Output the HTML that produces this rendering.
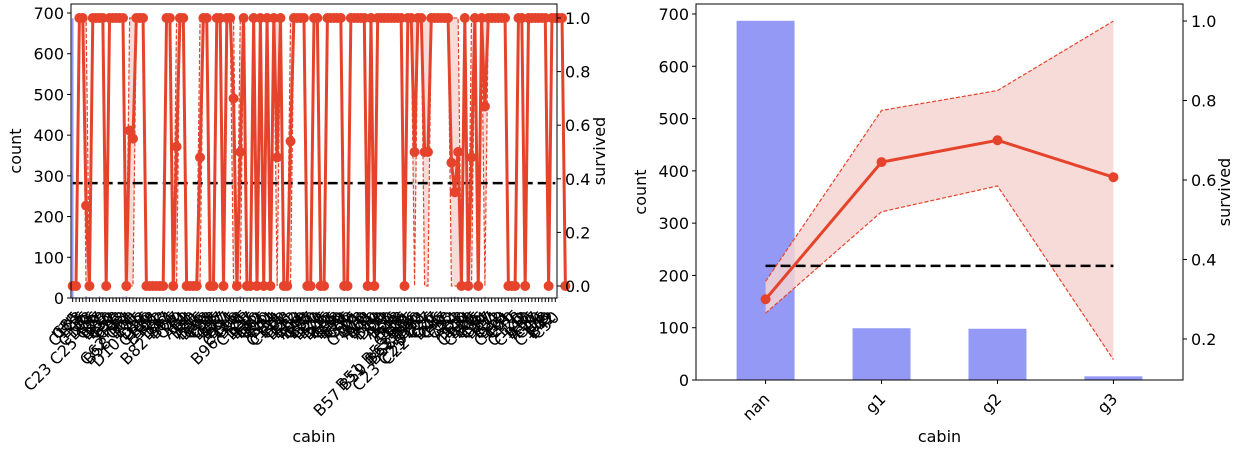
<!DOCTYPE html>
<html><head><meta charset="utf-8"><style>
body{margin:0;background:#fff;font-family:"Liberation Sans","DejaVu Sans",sans-serif;}
svg text{font-family:"DejaVu Sans","Liberation Sans",sans-serif;}
</style></head><body>
<svg id="s" width="1238" height="448" viewBox="0 0 1238 448" xmlns="http://www.w3.org/2000/svg"></svg>
<script>
// ---------- Left chart data ----------
const leftCabins = ("nan C85 C123 E46 G6 C103 D56 A6 C23_C25_C27 B78 D33 B30 C52 B28 C83 F33 F4 C62_C64 B58_B60 E31 A5 D10_D12 D26 C110 B58 E101 F2 E33 D47 B82_B84 B86 D7 C49 F4 A32 B4 B80 A31 D36 D15 C93 C83 C78 D35 C87 B77 E67 B94 C125 C99 B96_B98 T C128 D37 B35 E50 C82 B96 E10 E44 A34 C104 C111 C92 E38 D21 E12 E63 A14 B49 C93 B37 C30 D20 B79 E25 D46 B73 C95 B38 B39 B22 C86 C70 A16 C101 C68 A10 E68 B41 A20 D19 D50 D9 A23 B50 A26 D48 E58 C126 B71 B51_B53_B55 B57_B59_B63_B66 B58_B60 B53 B101 C23_C25_C27 C22_C26 C27 D45 C46 C47 F38 C32 A24 B3 D28 E40 C124 B20 C106 C65 E36 C54 B57 C7 E34 C32 B18 C124 C91 E40 T C128 D C148 B10 A36 E17 C49 D6 C118 E49 B42 C50").split(" ").map(s=>s.replace(/_/g," "));
const leftCounts = [687,2,1,1,4,2,1,1,4,2,1,2,2,2,2,3,4,2,2,1,1,1,1,1,2,1,2,1,1,1,1,1,1,1,1,1,2,1,1,1,1,2,1,1,1,1,1,1,1,1,4,1,1,1,1,1,1,2,1,1,1,2,1,1,1,1,1,1,1,1,1,1,1,1,1,1,1,1,1,1,1,1,1,1,1,1,1,1,1,1,1,1,1,1,1,1,1,1,1,1,1,1,1,2,2,1,2,1,1,1,1,1,1,3,3,2,1,1,1,2,1,1,1,3,1,1,1,1,1,1,1,1,1,1,1,1,1,1,1,1,1,1,1,1,1,1,1,1];
const leftSurv = [0,0,1,1,0.3,0,1,1,1,1,0,1,1,1,1,1,0,0.58,0.55,1,1,1,0,0,0,0,0,0,1,1,0,0.52,1,1,0,0,0,0,0.48,1,1,0,0,1,1,0,1,1,0.7,0,0.5,1,0,0,1,0,1,0,1,0,1,0.48,1,0,0,0.54,1,1,1,1,0,0,1,1,0,0,1,1,1,1,1,0,0,1,1,1,1,1,0,1,0,1,1,1,1,1,1,1,1,0,1,1,0.5,1,1,0.5,0.5,1,1,1,1,1,1,0.46,0.35,0.5,0,1,0,0.48,1,0,1,0.67,1,1,1,1,1,1,0,0,0,1,1,0,1,1,1,1,1,1,0,1,1,1,1,0];
const leftLo = leftSurv.map(v => (v>0 && v<1) ? 0 : v);
const leftHi = leftSurv.map(v => (v>0 && v<1) ? 1 : v);
const leftMean = 0.384;
const countTicks = [0,100,200,300,400,500,600,700];
const leftSurvTicks = [0.0,0.2,0.4,0.6,0.8,1.0];

// ---------- Right chart data ----------
const rightCats = ["nan","g1","g2","g3"];
const rightCounts = [687,99,98,7];
const rightSurv = [0.30,0.645,0.70,0.607];
const rightLo = [0.265,0.52,0.585,0.148];
const rightHi = [0.345,0.775,0.825,1.0];
const rightMean = 0.384;
const rightSurvTicks = [0.2,0.4,0.6,0.8,1.0];

const NS="http://www.w3.org/2000/svg", svg=document.getElementById('s');
function mk(tag, attrs, parent){const e=document.createElementNS(NS,tag);for(const k in attrs)e.setAttribute(k,attrs[k]);(parent||svg).appendChild(e);return e;}
const RED="#e5432b", BLUE="#9399f5", FILL="#f5d5d2";

function drawChart(o){
  const g=mk('g',{});
  
  
  const n=o.cats.length;
  const step=(o.x1-o.x0)/(n-1+2*o.pad);
  const xs=i=>o.x0+(i+o.pad)*step;
  const ycount=v=>o.c0y+(o.c700y-o.c0y)*v/700;
  const ys=v=>o.s0y+(o.s1y-o.s0y)*v;
  o.counts.forEach((c,i)=>{const b=mk('rect',{x:xs(i)-step*0.25,y:ycount(c),width:step*0.5,height:o.c0y-ycount(c),fill:BLUE},g);
    
    });
  let pts=o.hi.map((v,i)=>xs(i)+','+ys(v)).concat(o.lo.map((v,i)=>xs(i)+','+ys(v)).reverse());
  const band=mk('polygon',{points:pts.join(' '),fill:FILL,'fill-opacity':0.85},g);
  
  
  [o.lo,o.hi].forEach(arr=>{const l=mk('polyline',{points:arr.map((v,i)=>xs(i)+','+ys(v)).join(' '),fill:'none',stroke:RED,'stroke-width':1.2,'stroke-dasharray':'4,2'},g);
    
    });
  const m=mk('line',{x1:xs(0),x2:xs(n-1),y1:ys(o.mean),y2:ys(o.mean),stroke:'#000','stroke-width':2.5,'stroke-dasharray':'10,5'},g);
  
  
  const sl=mk('polyline',{points:o.surv.map((v,i)=>xs(i)+','+ys(v)).join(' '),fill:'none',stroke:RED,'stroke-width':o.lw},g);
  
  
  o.surv.forEach((v,i)=>{const c=mk('circle',{cx:xs(i),cy:ys(v),r:o.r,fill:RED},g);
    
    });
  const f=mk('rect',{x:o.x0,y:o.yt,width:o.x1-o.x0,height:o.yb-o.yt,fill:'none',stroke:'#000','stroke-width':1},g);
  
  
  countTicks.forEach(t=>{const y=ycount(t);mk('line',{x1:o.x0-4,x2:o.x0,y1:y,y2:y,stroke:'#000'},g);
    const tx=mk('text',{x:o.x0-7,y:y+6,'text-anchor':'end','font-size':16},g);tx.textContent=t;
    
    });
  o.sTicks.forEach(t=>{const y=ys(t);mk('line',{x1:o.x1,x2:o.x1+4,y1:y,y2:y,stroke:'#000'},g);
    const tx=mk('text',{x:o.x1+8,y:y+6,'font-size':16},g);tx.textContent=t.toFixed(1);
    
    });
  o.cats.forEach((c,i)=>{const x=xs(i);mk('line',{x1:x,x2:x,y1:o.yb,y2:o.yb+4,stroke:'#000'},g);
    const tx=mk('text',{x:x+5,y:o.yb+20,'text-anchor':'end','font-size':16,transform:`rotate(-45 ${x+5} ${o.yb+20})`},g);tx.textContent=c;
    
    });
  const xl=mk('text',{x:(o.x0+o.x1)/2,y:442,'text-anchor':'middle','font-size':16},g);xl.textContent='cabin';
  
  
  const yl=mk('text',{x:o.ylx,y:(o.yt+o.yb)/2,'text-anchor':'middle','font-size':16,transform:`rotate(-90 ${o.ylx} ${(o.yt+o.yb)/2})`},g);yl.textContent='count';
  
  
  const y2=mk('text',{x:o.y2x,y:(o.yt+o.yb)/2,'text-anchor':'middle','font-size':16,transform:`rotate(-90 ${o.y2x} ${(o.yt+o.yb)/2})`},g);y2.textContent='survived';
  
  
}
drawChart({name:'left-chart',cats:leftCabins,counts:leftCounts,surv:leftSurv,lo:leftLo,hi:leftHi,mean:leftMean,sTicks:leftSurvTicks,
  x0:71,x1:557,yt:4,yb:298,pad:0.5,c0y:298,c700y:13,s0y:286,s1y:18,ylx:21,y2x:605,lw:3,r:5});
drawChart({name:'right-chart',cats:rightCats,counts:rightCounts,surv:rightSurv,lo:rightLo,hi:rightHi,mean:rightMean,sTicks:rightSurvTicks,
  x0:696,x1:1183,yt:4,yb:380,pad:0.6,c0y:380,c700y:14,s0y:418.5,s1y:21,ylx:646,y2x:1230,lw:3,r:5});
</script>
</body></html>
